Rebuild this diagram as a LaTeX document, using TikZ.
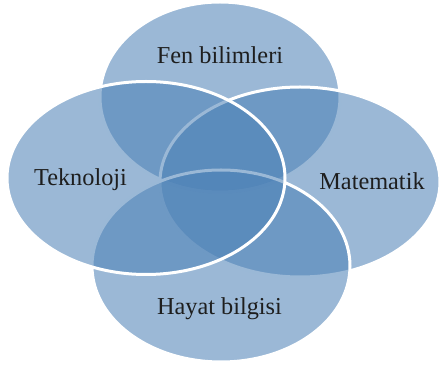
\documentclass[tikz,border=0pt]{standalone}
\usepackage{fontspec}
\setmainfont{Liberation Serif}
\usetikzlibrary{shapes.geometric}
\definecolor{setblue}{RGB}{76,129,182}
\definecolor{settext}{RGB}{30,30,30}

\begin{document}
\begin{tikzpicture}[
        x=1pt, y=-1pt,
        font=\fontsize{24.3}{29}\selectfont,
        set/.style={ellipse, draw=white, line width=3pt, fill=setblue, fill opacity=0.56, inner sep=0pt},
        lbl/.style={anchor=base, text=settext, inner sep=0pt},
    ]
    \useasboundingbox (0,0) rectangle (440,366);

    %====================== KÜMELER (çizim sırası: üst, sağ, alt, sol) ======================
    \node[set, minimum width=240pt, minimum height=190pt] (fen)   at (220, 97)  {};
    \node[set, minimum width=280pt, minimum height=190pt] (mat)   at (300, 182) {};
    \node[set, minimum width=258pt, minimum height=192pt] (hayat) at (221, 266) {};
    \node[set, minimum width=278pt, minimum height=193pt] (tek)   at (146, 178) {};

    %====================== ETİKETLER ======================
    \node[lbl] (fen-lbl)   at (220, 64)  {Fen bilimleri};
    \node[lbl] (tek-lbl)   at (80.5, 186) {Teknoloji};
    \node[lbl] (mat-lbl)   at (372, 190) {Matematik};
    \node[lbl] (hayat-lbl) at (219.5, 315) {Hayat bilgisi};

\end{tikzpicture}
\end{document}
